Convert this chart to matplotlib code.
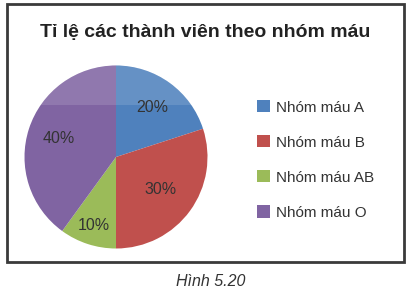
import matplotlib
matplotlib.use("Agg")
import matplotlib.pyplot as plt
from matplotlib.patches import Rectangle, Patch, Circle
import numpy as np

plt.rcParams['font.family'] = ['Liberation Sans', 'DejaVu Sans']

# du lieu
groups = ["Nhóm máu A", "Nhóm máu B", "Nhóm máu AB", "Nhóm máu O"]
shares = [20, 30, 10, 40]
colors = ["#4F81BD", "#C0504D", "#9BBB59", "#8064A2"]
title = "Tỉ lệ các thành viên theo nhóm máu"
caption = "Hình 5.20"

W, H = 408, 296
fig = plt.figure(figsize=(W / 100, H / 100), dpi=100)
fig.patch.set_facecolor("white")

# cadre
fig.patches.append(Rectangle((7 / W, 1 - 262 / H), 397 / W, 258 / H,
                             transform=fig.transFigure, fill=False,
                             edgecolor="#3a3a3a", linewidth=2))

fig.text(205 / W, 1 - 33 / H, title, ha="center", va="center",
         fontsize=14, fontweight="bold", color="#222222")

# camembert
cx, cy, r = 116, 157, 91.5
ax = fig.add_axes([(cx - r) / W, 1 - (cy + r) / H, 2 * r / W, 2 * r / H])
wedges, _ = ax.pie(shares, colors=colors, startangle=90, counterclock=False,
                   radius=1, wedgeprops=dict(linewidth=0))
ax.set_xlim(-1, 1)
ax.set_ylim(-1, 1)
ax.set_aspect("equal")
ax.axis("off")

# labels, distance variable
label_r = [0.67, 0.6, 0.79, 0.66]
for w, s, lr in zip(wedges, shares, label_r):
    ang = np.deg2rad((w.theta1 + w.theta2) / 2)
    ax.text(lr * np.cos(ang), lr * np.sin(ang), f"{s}%", ha="center", va="center",
            fontsize=11.5, color="#333333")

# reflet en haut
gloss = Rectangle((-1, 0.57), 2, 0.5, facecolor="white", alpha=0.13, linewidth=0)
ax.add_patch(gloss)
clip = Circle((0, 0), 1, transform=ax.transData)
gloss.set_clip_path(clip)

handles = [Patch(facecolor=c, edgecolor="none") for c in colors]
fig.legend(handles, groups, loc="center left", bbox_to_anchor=(257 / W, 1 - 160 / H),
           frameon=False, fontsize=11, labelspacing=1.35, handlelength=0.85,
           handleheight=0.85, handletextpad=0.4, borderpad=0, borderaxespad=0,
           labelcolor="#333333")

fig.text(211 / W, 1 - 282 / H, caption, ha="center", va="center",
         fontsize=11.5, style="italic", color="#333333")

fig.savefig("out.png", dpi=100)
